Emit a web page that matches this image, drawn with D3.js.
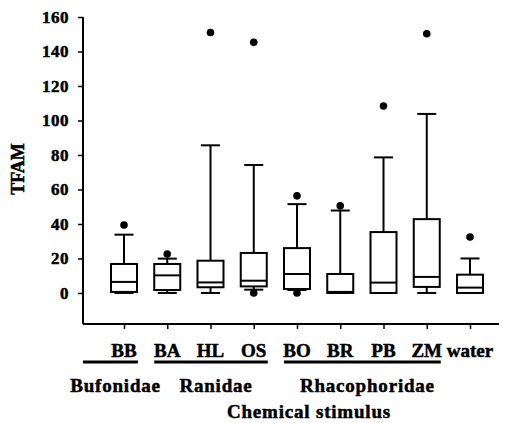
<!DOCTYPE html>
<html>
<head>
<meta charset="utf-8">
<script src="https://cdn.jsdelivr.net/npm/d3@7"></script>
<style>
    body { margin: 0; background: #fff; }
    svg text { stroke: #000; stroke-width: 0.5px; }
</style>
</head>
<body>
<svg id="chart" width="507" height="423"></svg>
<script>
// values
let categories = ['BB', 'BA', 'HL', 'OS', 'BO', 'BR', 'PB', 'ZM', 'water'];
let whiskerLow = [0, 0, 0, 1.9, 1.7, 0, 0, 0, 0];
let q1 = [0.6, 1.7, 3.3, 3.8, 2.3, 0, 0, 3.5, 0];
let medians = [6.4, 10.2, 6.1, 7.1, 11, 0.6, 6, 9.3, 3.1];
let q3 = [16.8, 16.8, 18.7, 23.2, 26, 11, 35.3, 42.8, 10.6];
let whiskerHigh = [33.8, 19.9, 85.6, 74.2, 51.5, 47.8, 78.6, 103.8, 20];
let outliers = [[39.4], [22.6], [151], [145.3, 0], [56.3, 0], [50.5], [108.4], [150.3], [32.4]];
let yTicks = [0, 20, 40, 60, 80, 100, 120, 140, 160];
let families = ['Bufonidae', 'Ranidae', 'Rhacophoridae'];
let familyMembers = [['BB'], ['BA', 'HL', 'OS'], ['BO', 'BR', 'PB', 'ZM']];

let serif = "'Liberation Serif', Tinos, 'Times New Roman', Times, serif";
let plot = {left: 83, right: 499, top: 17, bottom: 324};
let boxWidth = 26, capWidth = 19;

let svg = d3.select('#chart')
    .attr('font-family', serif)
    .attr('font-weight', 'bold');

let x = d3.scalePoint()
    .domain(categories)
    .range([124, 470]);

let y = d3.scaleLinear()
    .domain([-18, 160])
    .range([plot.bottom, plot.top]);

// y axis
let yAxis = d3.axisLeft(y)
    .tickValues(yTicks)
    .tickSize(5)
    .tickPadding(9)
    .tickSizeOuter(0);

let yg = svg.append('g')
    .attr('transform', `translate(${plot.left}, 0)`)
    .call(yAxis)
    .attr('font-family', serif)
    .attr('font-size', 17);
yg.select('.domain').remove();
yg.selectAll('.tick line').attr('stroke', '#000').attr('stroke-width', 1.5);
yg.selectAll('.tick text')
    .attr('letter-spacing', 0.5)
    .attr('fill', '#000');

svg.append('line')
    .attr('x1', plot.left).attr('x2', plot.left)
    .attr('y1', y(160)).attr('y2', plot.bottom)
    .attr('stroke', '#000').attr('stroke-width', 2);

// x axis
let xAxis = d3.axisBottom(x).tickSize(5).tickFormat('');
let xg = svg.append('g')
    .attr('transform', `translate(0, ${plot.bottom})`)
    .call(xAxis);
xg.select('.domain').remove();
xg.selectAll('.tick line').attr('stroke', '#000').attr('stroke-width', 1.5);

svg.append('line')
    .attr('x1', plot.left).attr('x2', plot.right)
    .attr('y1', plot.bottom).attr('y2', plot.bottom)
    .attr('stroke', '#000').attr('stroke-width', 2);

svg.append('g').selectAll('text')
    .data(categories)
    .join('text')
    .attr('x', d => x(d))
    .attr('y', 357)
    .attr('text-anchor', 'middle')
    .attr('font-size', 19)
    .text(d => d);

// boxes
let boxes = svg.append('g').selectAll('g')
    .data(categories)
    .join('g')
    .attr('transform', d => `translate(${x(d)}, 0)`);

// whiskers
boxes.append('line')
    .attr('y1', (d, i) => y(q3[i])).attr('y2', (d, i) => y(whiskerHigh[i]))
    .attr('stroke', '#000').attr('stroke-width', 2);
boxes.append('line')
    .attr('y1', (d, i) => y(q1[i])).attr('y2', (d, i) => y(whiskerLow[i]))
    .attr('stroke', '#000').attr('stroke-width', 2);
boxes.append('line')
    .attr('x1', -capWidth / 2).attr('x2', capWidth / 2)
    .attr('y1', (d, i) => y(whiskerHigh[i])).attr('y2', (d, i) => y(whiskerHigh[i]))
    .attr('stroke', '#000').attr('stroke-width', 2);
boxes.append('line')
    .attr('x1', -capWidth / 2).attr('x2', capWidth / 2)
    .attr('y1', (d, i) => y(whiskerLow[i])).attr('y2', (d, i) => y(whiskerLow[i]))
    .attr('stroke', '#000').attr('stroke-width', 2);

boxes.append('rect')
    .attr('x', -boxWidth / 2)
    .attr('width', boxWidth)
    .attr('y', (d, i) => y(q3[i]))
    .attr('height', (d, i) => y(q1[i]) - y(q3[i]))
    .attr('fill', '#fff')
    .attr('stroke', '#000').attr('stroke-width', 2);

boxes.append('line')
    .attr('x1', -boxWidth / 2).attr('x2', boxWidth / 2)
    .attr('y1', (d, i) => y(medians[i])).attr('y2', (d, i) => y(medians[i]))
    .attr('stroke', '#000').attr('stroke-width', 2);

boxes.each(function (d, i) {
    d3.select(this).selectAll('circle')
        .data(outliers[i])
        .join('circle')
        .attr('cx', 0)
        .attr('cy', v => y(v))
        .attr('r', 3.8)
        .attr('fill', '#000');
});

// family underlines and names
families.forEach((family, i) => {
    let members = familyMembers[i];
    let start = i === 0 ? plot.left : x(members[0]) - 13;
    let end = x(members[members.length - 1]) + 14;
    svg.append('line')
        .attr('x1', start).attr('x2', end)
        .attr('y1', 362).attr('y2', 362)
        .attr('stroke', '#000').attr('stroke-width', 3);
    svg.append('text')
        .attr('x', (start + end) / 2 + 5)
        .attr('y', 392)
        .attr('text-anchor', 'middle')
        .attr('font-size', 19)
        .attr('letter-spacing', 0.8)
        .text(family);
});

svg.append('text')
    .attr('x', (x.range()[0] + x.range()[1]) / 2 + 12)
    .attr('y', 418)
    .attr('text-anchor', 'middle')
    .attr('font-size', 19)
    .attr('letter-spacing', 0.8)
    .text('Chemical stimulus');

svg.append('text')
    .attr('transform', 'translate(24, 169) rotate(-90)')
    .attr('text-anchor', 'middle')
    .attr('font-size', 18)
    .text('TFAM');
</script>
</body>
</html>
